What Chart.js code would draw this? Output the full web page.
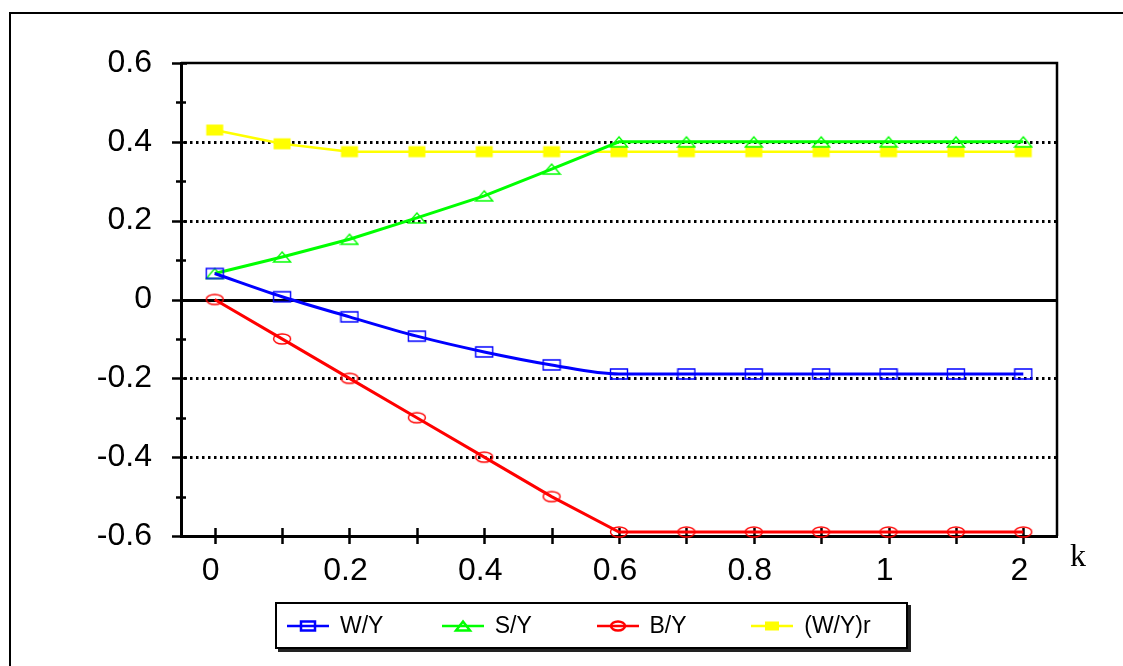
<!DOCTYPE html>
<html>
<head>
<meta charset="utf-8">
<script src="https://cdn.jsdelivr.net/npm/chart.js@4/dist/chart.umd.min.js"></script>
<style>
  html, body { margin: 0; padding: 0; background: #fff; overflow: hidden; }
  #wrap { position: relative; width: 1123px; height: 666px; overflow: hidden; }
  #frame { position: absolute; left: 9px; top: 12px; width: 1200px; height: 800px; border: 2px solid #000; box-sizing: border-box; }
  #chart { position: absolute; left: 0; top: 0; }
  #legend {
    position: absolute; left: 275px; top: 602px; width: 633px; height: 47px;
    border: 2px solid #000; box-sizing: border-box; background: #fff;
    box-shadow: 3px 3px 0 #222; display: flex; align-items: center; padding-left: 10px;
    font-family: "Liberation Sans", Arial, sans-serif; font-size: 23px; color: #000;
  }
  .item { width: 155px; display: flex; align-items: center; }
  .item canvas { margin-right: 9px; }
</style>
</head>
<body>
<div id="wrap">
  <div id="frame"></div>
  <canvas id="chart" width="1123" height="666"></canvas>
  <div id="legend"></div>
</div>
<script>
'use strict';

// k 값 (x축 범주)
const kLabels = ['0', '0.1', '0.2', '0.3', '0.4', '0.5', '0.6', '0.7', '0.8', '0.9', '1', '1.5', '2'];

// 각 계열 값
const wY  = [0.066, 0.007, -0.044, -0.093, -0.133, -0.166, -0.189, -0.189, -0.189, -0.189, -0.189, -0.189, -0.189];
const sY  = [0.066, 0.108, 0.153, 0.207, 0.263, 0.331, 0.400, 0.400, 0.400, 0.400, 0.400, 0.400, 0.400];
const bY  = [0.000, -0.100, -0.200, -0.300, -0.400, -0.500, -0.590, -0.590, -0.590, -0.590, -0.590, -0.590, -0.590];
const wYr = [0.430, 0.395, 0.375, 0.375, 0.375, 0.375, 0.375, 0.375, 0.375, 0.375, 0.375, 0.375, 0.375];

// y축 눈금
const yTicks = [0.6, 0.4, 0.2, 0, -0.2, -0.4, -0.6];
const yMinorTicks = [0.5, 0.3, 0.1, -0.1, -0.3, -0.5];
const yDotted = [0.4, 0.2, -0.2, -0.4];

const seriesNames = ['W/Y', 'S/Y', 'B/Y', '(W/Y)r'];
const seriesColors = ['#0000ff', '#00ff00', '#ff0000', '#ffff00'];
const seriesShapes = ['rect', 'triangle', 'ellipse', 'fillRect'];
const seriesSmooth = [true, false, false, false];

// 마커 그리기
function drawShape(ctx, shape, color, cx, cy, w, h, lw) {
    ctx.strokeStyle = color;
    ctx.fillStyle = color;
    ctx.lineWidth = lw;
    ctx.beginPath();
    if (shape === 'rect') {
        ctx.rect(cx - w / 2, cy - h / 2, w, h);
        ctx.stroke();
    } else if (shape === 'triangle') {
        ctx.moveTo(cx, cy - h / 2);
        ctx.lineTo(cx + w / 2, cy + h / 2);
        ctx.lineTo(cx - w / 2, cy + h / 2);
        ctx.closePath();
        ctx.stroke();
    } else if (shape === 'ellipse') {
        ctx.ellipse(cx, cy, w / 2, h / 2, 0, 0, Math.PI * 2);
        ctx.stroke();
    } else {
        ctx.fillRect(cx - w / 2, cy - h / 2, w, h);
    }
}

function makeMarker(shape, color) {
    const c = document.createElement('canvas');
    c.width = 20;
    c.height = 14;
    const ctx = c.getContext('2d');
    const h = shape === 'fillRect' ? 11 : 10;
    drawShape(ctx, shape, color, 10, 7, 17, h, 1.4);
    return c;
}

function makeLegendIcon(shape, color) {
    const c = document.createElement('canvas');
    c.width = 44;
    c.height = 20;
    const ctx = c.getContext('2d');
    ctx.strokeStyle = color;
    ctx.lineWidth = 2.5;
    ctx.beginPath();
    ctx.moveTo(0, 10);
    ctx.lineTo(42, 10);
    ctx.stroke();
    drawShape(ctx, shape, color, 21, 10, 14, 9, 2.5);
    return c;
}

// 범례 (HTML)
const legendEl = document.getElementById('legend');
seriesNames.forEach((name, i) => {
    const item = document.createElement('div');
    item.className = 'item';
    item.appendChild(makeLegendIcon(seriesShapes[i], seriesColors[i]));
    const span = document.createElement('span');
    span.textContent = name;
    item.appendChild(span);
    legendEl.appendChild(item);
});

// 격자선, 눈금, 테두리, 축 제목
const decorPlugin = {
    id: 'decor',
    beforeDatasetsDraw(chart) {
        const { ctx, chartArea: a, scales: { x, y } } = chart;
        ctx.save();
        ctx.strokeStyle = '#000';

        ctx.lineWidth = 3;
        ctx.setLineDash([2.5, 3.5]);
        yDotted.forEach(v => {
            const py = Math.round(y.getPixelForValue(v)) + 0.5;
            ctx.beginPath();
            ctx.moveTo(a.left + 3, py);
            ctx.lineTo(a.right, py);
            ctx.stroke();
        });
        ctx.setLineDash([]);

        ctx.lineWidth = 3;
        const zy = Math.round(y.getPixelForValue(0)) + 0.5;
        ctx.beginPath();
        ctx.moveTo(a.left, zy);
        ctx.lineTo(a.right, zy);
        ctx.stroke();

        ctx.lineWidth = 2.5;
        ctx.beginPath();
        ctx.moveTo(a.left, a.top);
        ctx.lineTo(a.right, a.top);
        ctx.lineTo(a.right, a.bottom);
        ctx.stroke();

        ctx.lineWidth = 2.5;
        yTicks.forEach(v => {
            const py = Math.round(y.getPixelForValue(v)) + 0.5;
            ctx.beginPath();
            ctx.moveTo(a.left - 9, py);
            ctx.lineTo(a.left + 6, py);
            ctx.stroke();
        });
        yMinorTicks.forEach(v => {
            const py = Math.round(y.getPixelForValue(v)) + 0.5;
            ctx.beginPath();
            ctx.moveTo(a.left - 5, py);
            ctx.lineTo(a.left + 5, py);
            ctx.stroke();
        });
        kLabels.forEach((lab, i) => {
            const px = Math.round(x.getPixelForValue(i)) + 0.5;
            ctx.beginPath();
            ctx.moveTo(px, a.bottom - 8);
            ctx.lineTo(px, a.bottom + 8);
            ctx.stroke();
        });
        ctx.restore();
    },
    afterDraw(chart) {
        const { ctx, chartArea: a } = chart;
        ctx.save();
        ctx.fillStyle = '#000';
        ctx.font = '32px "Liberation Serif", "Times New Roman", serif';
        ctx.textAlign = 'left';
        ctx.textBaseline = 'middle';
        ctx.fillText('k', a.right + 13, a.bottom + 22);
        ctx.restore();
    }
};

const datasets = [wY, sY, bY, wYr].map((vals, i) => ({
    label: seriesNames[i],
    data: vals,
    borderColor: seriesColors[i],
    backgroundColor: seriesColors[i],
    borderWidth: i === 3 ? 2.5 : 3,
    pointStyle: makeMarker(seriesShapes[i], seriesColors[i]),
    pointRadius: 8,
    cubicInterpolationMode: seriesSmooth[i] ? 'monotone' : 'default',
    tension: 0,
    clip: false
}));

new Chart(document.getElementById('chart').getContext('2d'), {
    type: 'line',
    data: { labels: kLabels, datasets: datasets },
    options: {
        responsive: false,
        animation: false,
        layout: { padding: { top: 63, right: 66, left: 0, bottom: 0 } },
        plugins: {
            legend: { display: false },
            tooltip: { enabled: false }
        },
        scales: {
            x: {
                type: 'category',
                offset: true,
                grid: { display: false },
                border: { display: true, color: '#000', width: 3 },
                ticks: {
                    autoSkip: false,
                    maxRotation: 0,
                    padding: 8,
                    labelOffset: -4,
                    color: '#000',
                    font: { family: '"Liberation Sans", Arial, sans-serif', size: 32 },
                    callback: (val, i) => (i % 2 === 0 ? kLabels[i] : '')
                },
                afterFit: (scale) => { scale.height = 130; }
            },
            y: {
                min: -0.6,
                max: 0.6,
                grid: { display: false },
                border: { display: true, color: '#000', width: 3 },
                afterBuildTicks: (scale) => { scale.ticks = yTicks.map(v => ({ value: v })); },
                ticks: {
                    padding: 21,
                    color: '#000',
                    font: { family: '"Liberation Sans", Arial, sans-serif', size: 32 },
                    callback: (v) => String(Math.round(v * 10) / 10)
                },
                afterFit: (scale) => { scale.width = 181; }
            }
        }
    },
    plugins: [decorPlugin]
});
</script>
</body>
</html>
